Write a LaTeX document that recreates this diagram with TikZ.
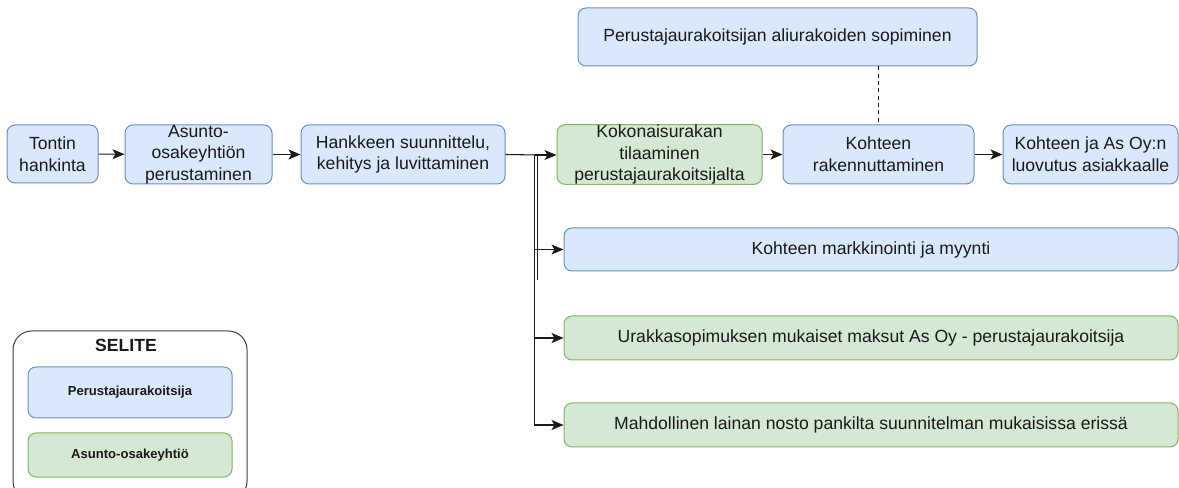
\documentclass[tikz,border=0pt]{standalone}
\usepackage{fontspec}
\setmainfont{Liberation Sans}
\usetikzlibrary{arrows.meta}
\definecolor{pfill}{HTML}{DAE8FC}
\definecolor{pline}{HTML}{6C8EBF}
\definecolor{afill}{HTML}{D5E8D4}
\definecolor{aline}{HTML}{82B366}
\definecolor{ink}{HTML}{1A1A1A}
\tikzset{
  geo/.style n args={4}{at={({(#1+#3)/2},{(#2+#4)/2})},
    minimum width={(#3-#1)*0.75pt}, minimum height={(#4-#2)*0.75pt}},
  box/.style={draw, rounded corners=6pt, align=center, inner sep=0pt,
    line width=0.75pt, text=ink, font=\fontsize{13.2}{16.2}\selectfont},
  pbox/.style={box, fill=pfill, draw=pline},
  abox/.style={box, fill=afill, draw=aline},
  legbox/.style={font=\bfseries\fontsize{9.8}{11}\selectfont},
  conn/.style={line width=0.8pt, draw=ink, -{Stealth[length=9pt,width=7.5pt,inset=2.2pt]}},
  wire/.style={line width=0.8pt, draw=ink},
}
\begin{document}
\begin{tikzpicture}[x=0.75pt,y=-0.75pt]
\clip (0,0) rectangle (1179,488);
\useasboundingbox (0,0) rectangle (1179,488);

% main process chain
\node[pbox, geo={7}{125}{98}{183}] (tontti) {Tontin\\hankinta};
\node[pbox, geo={125}{125}{272}{184}] (yhtio) {Asunto-\\osakeyhtiön\\perustaminen};
\node[pbox, geo={301}{125}{505}{184}] (hanke) {Hankkeen suunnittelu,\\kehitys ja luvittaminen};
\node[abox, geo={557}{125}{762}{184}] (tilaus) {Kokonaisurakan\\tilaaminen\\perustajaurakoitsijalta};
\node[pbox, geo={783}{125}{974}{184}] (rak) {Kohteen\\rakennuttaminen};
\node[pbox, geo={1003}{125}{1178}{184}] (luovutus) {Kohteen ja As Oy:n\\luovutus asiakkaalle};
\node[pbox, geo={578}{8}{977}{66}] (ali) {Perustajaurakoitsijan aliurakoiden sopiminen};

% parallel activities
\node[pbox, geo={564}{228}{1178}{271}] (myynti) {Kohteen markkinointi ja myynti};
\node[abox, geo={564}{316}{1178}{360}] (maksut) {Urakkasopimuksen mukaiset maksut As Oy - perustajaurakoitsija};
\node[abox, geo={564}{403}{1178}{447}] (laina) {Mahdollinen lainan nosto pankilta suunnitelman mukaisissa erissä};

% connectors
\draw[conn] (tontti) -- (yhtio);
\draw[conn] (yhtio) -- (hanke);
\coordinate (split) at (534.5,155);
\coordinate (split2) at (537.5,155);
\coordinate (split2end) at (537.5,280);
\draw[wire] (hanke.east) -- (split2);
\draw[conn] (split) -- (tilaus.west |- split);
\draw[conn] (split) |- (myynti.west);
\draw[conn] (split) |- (maksut.west);
\draw[conn] (split) |- (laina.west);
\draw[wire] (split2) -- (split2end);
\draw[conn] (tilaus) -- (rak);
\draw[conn] (rak) -- (luovutus);
\draw[wire, dash pattern=on 3pt off 2.5pt] (rak.north |- ali.south) -- (rak.north);

% legend
\node[draw=ink!85, line width=0.75pt, rounded corners=14pt, geo={13}{331}{247}{500}] (legend) {};
\node[text=ink, font=\bfseries\fontsize{13.2}{15}\selectfont] (selite) at (126,345) {SELITE};
\node[pbox, legbox, geo={28}{367}{232}{418}] (legp) {Perustajaurakoitsija};
\node[abox, legbox, geo={28}{433}{232}{477}] (lega) {Asunto-osakeyhtiö};
\end{tikzpicture}
\end{document}
